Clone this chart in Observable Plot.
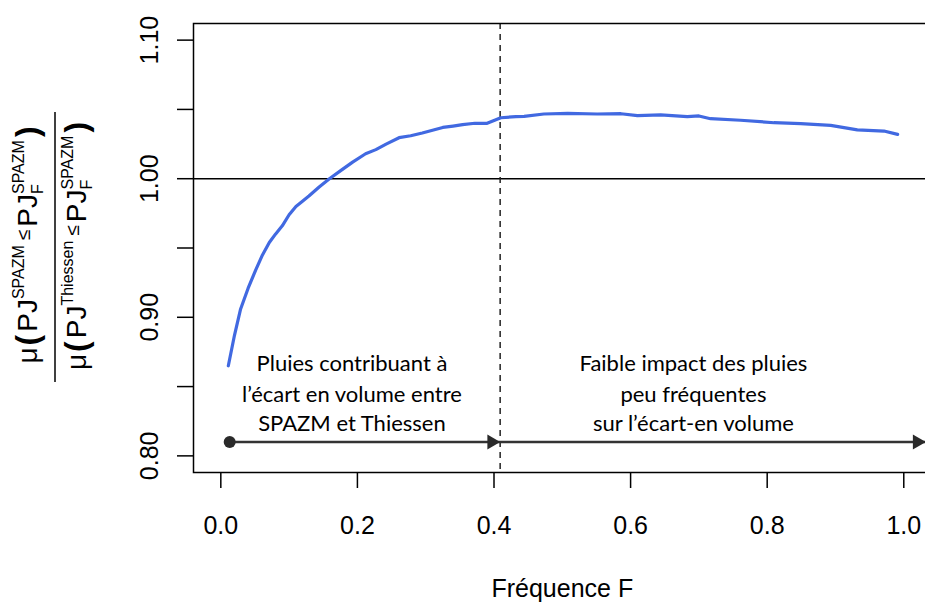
<!DOCTYPE html>
<html><head><meta charset="utf-8">
<script src="https://cdn.jsdelivr.net/npm/d3@7"></script>
<script src="https://cdn.jsdelivr.net/npm/@observablehq/plot@0.6"></script>
<style>html,body{margin:0;padding:0;overflow:hidden;background:#fff}</style>
</head><body><div id="chart"></div>
<script>
// Curve: frequency F vs ratio
const freq  = [0.011,0.020,0.029,0.040,0.051,0.061,0.071,0.080,0.090,0.100,0.110,0.120,0.129,0.144,0.159,0.176,0.193,0.212,0.227,0.242,0.261,0.278,0.295,0.310,0.325,0.340,0.354,0.372,0.390,0.410,0.432,0.444,0.473,0.508,0.551,0.586,0.610,0.644,0.683,0.700,0.717,0.761,0.810,0.849,0.893,0.932,0.971,0.991];
const ratio = [0.865,0.887,0.906,0.921,0.934,0.945,0.954,0.960,0.966,0.974,0.980,0.984,0.9875,0.994,1.000,1.006,1.012,1.018,1.021,1.025,1.0296,1.031,1.033,1.035,1.037,1.038,1.039,1.040,1.040,1.044,1.0448,1.045,1.0467,1.0472,1.0467,1.0469,1.0455,1.046,1.0448,1.0453,1.0433,1.0422,1.0404,1.0397,1.0385,1.0352,1.0344,1.032];

const xTicks = [0, 0.2, 0.4, 0.6, 0.8, 1.0];
const xTickLabels = ["0.0","0.2","0.4","0.6","0.8","1.0"];
const yTicks = [0.80, 0.85, 0.90, 0.95, 1.00, 1.05, 1.10];
const yLabelTicks = [0.80, 0.90, 1.00, 1.10];
const yTickLabels = ["0.80","0.90","1.00","1.10"];
const refLine = [1.0];
const splitF = [0.409];
const arrowLevel = 0.81;
const arrowStarts = [0.013, 0.409];
const arrowEnds = [0.409, 1.032];
const noteCenters = [0.192, 0.692];
const noteLineY = [0.8609, 0.8392, 0.8179];
const notesLeft = ["Pluies contribuant à", "l’écart en volume entre", "SPAZM et Thiessen"];
const notesRight = ["Faible impact des pluies", "peu fréquentes", "sur l’écart-en volume"];
const xTitle = "Fréquence F";

const curve = freq.map((f, i) => ({f, r: ratio[i]}));
const arrows = arrowStarts.map((s, i) => ({x1: s, x2: arrowEnds[i], y: arrowLevel}));
const noteRows = [
  ...notesLeft.map((t, i) => ({t, x: noteCenters[0], y: noteLineY[i]})),
  ...notesRight.map((t, i) => ({t, x: noteCenters[1], y: noteLineY[i]}))
];
const yLab = yLabelTicks.map((v, i) => ({v, t: yTickLabels[i]}));

const chart = Plot.plot({
  width: 925, height: 602,
  marginLeft: 193, marginRight: -5.6, marginTop: 23, marginBottom: 130,
  style: {fontFamily: "'Liberation Sans', Arial, sans-serif", fontSize: "25px", color: "black", background: "white", overflow: "visible"},
  x: {domain: [-0.04, 1.04]},
  y: {domain: [0.788, 1.112]},
  marks: [
    Plot.ruleY(refLine, {stroke: "black", strokeWidth: 1.5}),
    Plot.ruleX(splitF, {stroke: "#222", strokeWidth: 1.5, strokeDasharray: "6,5"}),
    Plot.line(curve, {x: "f", y: "r", stroke: "#4169E1", strokeWidth: 3.2}),
    Plot.link(arrows, {x1: "x1", x2: "x2", y1: "y", y2: "y", stroke: "#333", strokeWidth: 2.5}),
    Plot.dot(arrows.slice(0, 1), {x: "x1", y: "y", r: 6, fill: "#2a2a2a", stroke: null}),
    Plot.dot(arrows, {x: "x2", y: "y", symbol: "triangle", rotate: 90, r: 5.5, fill: "#2a2a2a", stroke: null, dx: -8.5}),
    Plot.text(noteRows, {x: "x", y: "y", text: "t", fontFamily: "Lato, 'Open Sans', sans-serif", fontSize: 22, lineAnchor: "bottom", textAnchor: "middle", fill: "black"}),
    Plot.frame({stroke: "black", strokeWidth: 1.5}),
    Plot.axisX({ticks: xTicks, tickFormat: d => xTickLabels[xTicks.indexOf(d)], tickSize: 16, tickPadding: 28, label: null, fontSize: 25, strokeWidth: 1.5}),
    Plot.axisY({ticks: yTicks, tickSize: 16, tickFormat: () => "", label: null, strokeWidth: 1.5}),
    Plot.text(yLab, {y: "v", text: "t", frameAnchor: "left", dx: -36, rotate: -90, textAnchor: "middle", lineAnchor: "bottom", fontSize: 25}),
    Plot.text([xTitle], {frameAnchor: "bottom", dy: 124, lineAnchor: "bottom", textAnchor: "middle", fontSize: 25})
  ]
});
document.getElementById("chart").appendChild(chart);

// Rotated fraction y-axis title, built as real text with tspans
const svg = d3.select(chart);
const g = svg.append("g").attr("font-family", "'Liberation Sans', Arial, sans-serif").attr("fill", "black");
function mathLine(parts, bx, cy) {
  const t = g.append("text").attr("transform", `translate(${bx},${cy}) rotate(-90)`).attr("text-anchor", "middle");
  let prev = 0;
  for (const p of parts) {
    const sh = p.sh || 0;
    const ts = t.append("tspan").attr("font-size", p.s).attr("dx", p.dx || 0).attr("dy", sh - prev).text(p.t);
    if (p.b) ts.attr("font-weight", "bold");
    prev = sh;
  }
}
const M = 28, S = 16, B = 32, L = 19;
const fW = 0.611 * S;
function parts(sup1) {
  return [
    {t: "μ", s: M}, {t: "(", s: B, sh: 1, dx: 2, b: true}, {t: "PJ", s: M, dx: 3},
    {t: sup1, s: S, sh: -13}, {t: "≤", s: L, sh: -7, dx: 5},
    {t: "PJ", s: M, dx: 3}, {t: "F", s: S, sh: 6}, {t: "SPAZM", s: S, sh: -13, dx: -fW},
    {t: ")", s: B, sh: 1, dx: 3, b: true}
  ];
}
mathLine(parts("SPAZM"), 37, 245);
mathLine(parts("Thiessen"), 86, 246);
g.append("line").attr("x1", 55).attr("x2", 55).attr("y1", 112).attr("y2", 382).attr("stroke", "black").attr("stroke-width", 1.5);
</script>
</body></html>
